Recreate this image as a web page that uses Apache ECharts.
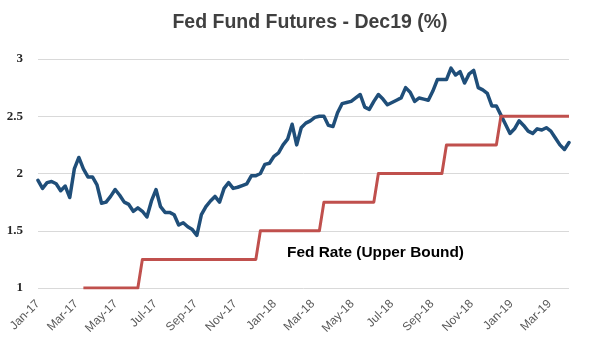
<!DOCTYPE html>
<html><head><meta charset="utf-8">
<script src="https://cdn.jsdelivr.net/npm/echarts@6/dist/echarts.min.js"></script>
<style>html,body{margin:0;padding:0;background:#fff}#c{width:591px;height:358px}</style>
</head><body><div id="c"></div>
<script>
// Weekly observations (Fridays) starting from this date
const startDate = '2017-01-06';
const endDate = '2019-04-05';

// Fed Fund Futures - Dec19 implied rate (%)
const futures = [
  1.94, 1.87, 1.92, 1.93, 1.91, 1.85, 1.89, 1.79, 2.04, 2.14,
  2.04, 1.97, 1.97, 1.90, 1.74, 1.75, 1.80, 1.86, 1.81, 1.75,
  1.73, 1.67, 1.70, 1.67, 1.62, 1.76, 1.86, 1.71, 1.66, 1.66,
  1.64, 1.55, 1.57, 1.535, 1.51, 1.46, 1.64, 1.71, 1.76, 1.80,
  1.75, 1.87, 1.92, 1.87, 1.88, 1.895, 1.91, 1.98, 1.98, 2.00,
  2.08, 2.09, 2.15, 2.18, 2.25, 2.30, 2.43, 2.25, 2.40, 2.44,
  2.46, 2.49, 2.50, 2.50, 2.42, 2.41, 2.53, 2.61, 2.62, 2.63,
  2.66, 2.69, 2.58, 2.56, 2.63, 2.69, 2.65, 2.60, 2.62, 2.64,
  2.66, 2.75, 2.71, 2.63, 2.66, 2.65, 2.64, 2.72, 2.82, 2.82,
  2.82, 2.92, 2.86, 2.89, 2.79, 2.87, 2.90, 2.75, 2.73, 2.70,
  2.59, 2.59, 2.51, 2.43, 2.35, 2.39, 2.46, 2.42, 2.37, 2.35,
  2.39, 2.38, 2.40, 2.37, 2.31, 2.25, 2.21, 2.27
];

// Fed Rate (Upper Bound), same weekly dates
const fedRate = [
  null, null, null, null, null, null, null, null, null, null,
  1.00, 1.00, 1.00, 1.00, 1.00, 1.00, 1.00, 1.00, 1.00, 1.00,
  1.00, 1.00, 1.00, 1.25, 1.25, 1.25, 1.25, 1.25, 1.25, 1.25,
  1.25, 1.25, 1.25, 1.25, 1.25, 1.25, 1.25, 1.25, 1.25, 1.25,
  1.25, 1.25, 1.25, 1.25, 1.25, 1.25, 1.25, 1.25, 1.25, 1.50,
  1.50, 1.50, 1.50, 1.50, 1.50, 1.50, 1.50, 1.50, 1.50, 1.50,
  1.50, 1.50, 1.50, 1.75, 1.75, 1.75, 1.75, 1.75, 1.75, 1.75,
  1.75, 1.75, 1.75, 1.75, 1.75, 2.00, 2.00, 2.00, 2.00, 2.00,
  2.00, 2.00, 2.00, 2.00, 2.00, 2.00, 2.00, 2.00, 2.00, 2.00,
  2.25, 2.25, 2.25, 2.25, 2.25, 2.25, 2.25, 2.25, 2.25, 2.25,
  2.25, 2.25, 2.50, 2.50, 2.50, 2.50, 2.50, 2.50, 2.50, 2.50,
  2.50, 2.50, 2.50, 2.50, 2.50, 2.50, 2.50, 2.50
];

const tickLabels = ['Jan-17','Mar-17','May-17','Jul-17','Sep-17','Nov-17','Jan-18','Mar-18','May-18','Jul-18','Sep-18','Nov-18','Jan-19','Mar-19'];
const yMin = 1, yMax = 3, yStep = 0.5;

const titleText = 'Fed Fund Futures - Dec19 (%)';
const annotationText = 'Fed Rate (Upper Bound)';

// ---- build ----
const DAY = 86400000;
const t0 = Date.parse(startDate + 'T00:00:00Z');
const tEnd = Date.parse(endDate + 'T00:00:00Z');
const months = ['Jan','Feb','Mar','Apr','May','Jun','Jul','Aug','Sep','Oct','Nov','Dec'];
const tickDays = tickLabels.map(l => {
  const [m, y] = l.split('-');
  const t = Date.UTC(2000 + (+y), months.indexOf(m), 6);
  return Math.round((t - t0) / DAY);
});
const xMax = Math.round((tEnd - t0) / DAY);
const dayOf = i => i * 7;

const chart = echarts.init(document.getElementById('c'), null, {renderer: 'canvas'});
chart.setOption({
  animation: false,
  backgroundColor: '#ffffff',
  title: {
    text: titleText,
    left: 305, top: 8, textAlign: 'center',
    textStyle: {fontFamily: 'Liberation Sans', fontWeight: 'bold', fontSize: 19.5, color: '#404040'}
  },
  grid: {left: 38, right: 22, top: 59, bottom: 70, containLabel: false},
  xAxis: {
    type: 'value', min: 0, max: xMax,
    axisLine: {show: false}, axisTick: {show: false}, splitLine: {show: false},
    axisLabel: {
      customValues: tickDays,
      rotate: 45, margin: 14, fontSize: 12, color: '#595959', fontFamily: 'Liberation Sans',
      formatter: v => {
        let best = 0;
        tickDays.forEach((d, k) => { if (Math.abs(d - v) < Math.abs(tickDays[best] - v)) best = k; });
        return tickLabels[best];
      }
    }
  },
  yAxis: {
    type: 'value', min: yMin, max: yMax, interval: yStep,
    axisLine: {show: false}, axisTick: {show: false},
    splitLine: {lineStyle: {color: '#d9d9d9', width: 1}},
    axisLabel: {margin: 15, fontSize: 13, fontWeight: 'bold', color: '#262626', fontFamily: 'Liberation Serif'}
  },
  series: [
    {
      name: 'Fed Fund Futures', type: 'line', showSymbol: false, symbol: 'none',
      data: futures.map((v, i) => [dayOf(i), v]),
      lineStyle: {color: '#1f4e79', width: 3.5, cap: 'round', join: 'round'}
    },
    {
      name: 'Fed Rate (Upper Bound)', type: 'line', showSymbol: false, symbol: 'none',
      data: fedRate.map((v, i) => [dayOf(i), v]),
      lineStyle: {color: '#c0504d', width: 3, join: 'round'}
    }
  ],
  graphic: [{
    type: 'text', left: 287, top: 245,
    style: {text: annotationText, fontFamily: 'Liberation Sans', fontWeight: 'bold', fontSize: 15.4, fill: '#000000'}
  }]
});
</script>
</body></html>
